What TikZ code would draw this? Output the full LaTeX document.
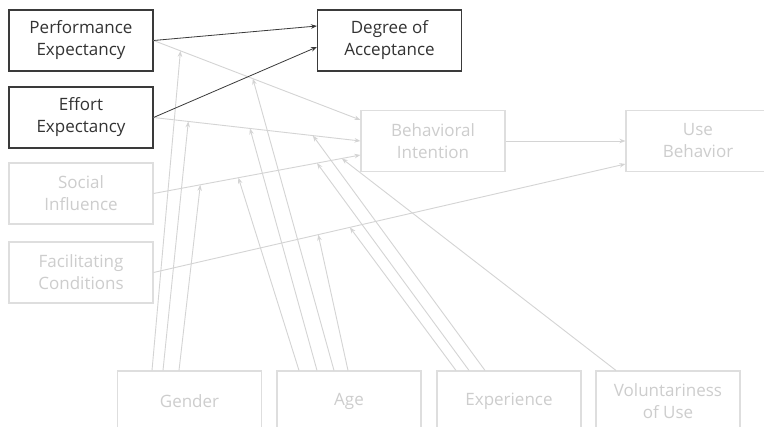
\documentclass[tikz,border=0pt]{standalone}
\usepackage{fontspec}
\setmainfont{Open Sans}
\usetikzlibrary{arrows.meta}
\definecolor{darkc}{HTML}{3A3A3A}
\definecolor{darktext}{HTML}{333333}
\definecolor{lightline}{HTML}{D4D4D4}
\definecolor{lightborder}{HTML}{DEDEDE}
\definecolor{lighttext}{HTML}{CDCDCD}
\begin{document}
\begin{tikzpicture}[x=1pt,y=-1pt,
  box/.style={draw, rectangle, minimum width=144pt, minimum height=61pt, inner sep=0pt, align=center, font=\fontsize{17}{22}\selectfont, line width=1.1pt},
  darkbox/.style={box, draw=darkc, text=darktext},
  lightbox/.style={box, draw=lightborder, text=lighttext},
  darkarrow/.style={draw=darkc, line width=0.8pt, -{Stealth[length=6pt,width=4.5pt]}},
  lightarrow/.style={draw=lightline, line width=0.9pt, -{Stealth[length=6pt,width=4.5pt]}},
]
\useasboundingbox[fill=white] (0,0) rectangle (764,427);
% left column
\node[darkbox]  (pe) at (81,40.5)  {Performance\\Expectancy};
\node[darkbox]  (ee) at (81,117.5) {Effort\\Expectancy};
\node[lightbox] (si) at (81,193.5) {Social\\Influence};
\node[lightbox] (fc) at (81,272.5) {Facilitating\\Conditions};
% right side
\node[darkbox]  (doa) at (389.5,40.5) {Degree of\\Acceptance};
\node[lightbox] (bi)  at (433,141)    {Behavioral\\Intention};
\node[lightbox] (ub)  at (698,141)    {Use\\Behavior};
% moderators
\node[lightbox] (gen) at (189.5,401.5) {Gender};
\node[lightbox] (age) at (349,401.5)   {Age};
\node[lightbox] (exp) at (509,401.5)   {Experience};
\node[lightbox] (vol) at (668,401.5)   {Voluntariness\\of Use};
% light main paths with moderation points
\draw[lightarrow] (pe.east) -- coordinate[pos=0.13] (g1) coordinate[pos=0.48] (a3) ([yshift=21pt]bi.west);
\draw[lightarrow] (ee.east) -- coordinate[pos=0.168] (g2) coordinate[pos=0.466] (a2) coordinate[pos=0.77] (e3) (bi.west);
\draw[lightarrow] (si.east) -- coordinate[pos=0.226] (g3) coordinate[pos=0.41] (a1) coordinate[pos=0.79] (e2) coordinate[pos=0.91] (v1) ([yshift=-14pt]bi.west);
\draw[lightarrow] (fc.east) -- coordinate[pos=0.349] (a4) coordinate[pos=0.416] (e1) ([yshift=-23pt]ub.west);
\draw[lightarrow] (bi.east) -- (ub.west);
% moderating connectors
\draw[lightarrow] ([xshift=-37.5pt]gen.north) -- (g1);
\draw[lightarrow] ([xshift=-26.5pt]gen.north) -- (g2);
\draw[lightarrow] ([xshift=-10.5pt]gen.north) -- (g3);
\draw[lightarrow] ([xshift=-50pt]age.north) -- (a1);
\draw[lightarrow] ([xshift=-32pt]age.north) -- (a2);
\draw[lightarrow] ([xshift=-15pt]age.north) -- (a3);
\draw[lightarrow] ([xshift=-1pt]age.north) -- (a4);
\draw[lightarrow] ([xshift=-53pt]exp.north) -- (e1);
\draw[lightarrow] ([xshift=-40pt]exp.north) -- (e2);
\draw[lightarrow] ([xshift=-24pt]exp.north) -- (e3);
\draw[lightarrow] ([xshift=-52pt]vol.north) -- (v1);
% dark paths
\draw[darkarrow] (pe.east) -- ([yshift=14.5pt]doa.west);
\draw[darkarrow] (ee.east) -- ([yshift=-6.5pt]doa.west);
\end{tikzpicture}
\end{document}
